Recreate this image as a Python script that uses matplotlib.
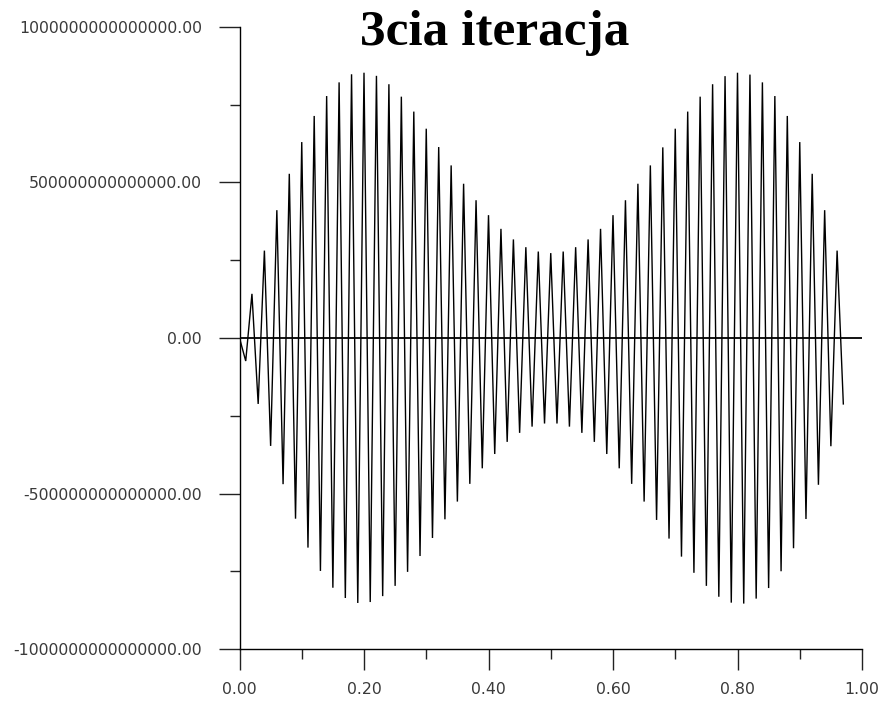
import numpy as np
import matplotlib
matplotlib.use("Agg")
import matplotlib.pyplot as plt
from matplotlib.ticker import MultipleLocator, FuncFormatter

# values, in units of 1e14, one per grid point (step 0.01)
VALUES_E14 = [
    0.00, -0.74, 1.42, -2.12, 2.81, -3.47, 4.11, -4.70, 5.28, -5.81,
    6.30, -6.74, 7.14, -7.49, 7.78, -8.03, 8.22, -8.36, 8.48, -8.52,
    8.53, -8.49, 8.43, -8.30, 8.16, -7.97, 7.76, -7.52, 7.28, -7.01,
    6.73, -6.43, 6.14, -5.83, 5.55, -5.26, 4.96, -4.69, 4.43, -4.19,
    3.95, -3.73, 3.51, -3.34, 3.17, -3.05, 2.92, -2.85, 2.78, -2.75,
    2.73, -2.75, 2.78, -2.85, 2.92, -3.05, 3.17, -3.34, 3.51, -3.73,
    3.95, -4.19, 4.43, -4.69, 4.96, -5.26, 5.55, -5.85, 6.13, -6.45,
    6.73, -7.03, 7.28, -7.55, 7.76, -7.97, 8.16, -8.32, 8.42, -8.51,
    8.53, -8.54, 8.47, -8.38, 8.22, -8.04, 7.78, -7.50, 7.14, -6.76,
    6.30, -5.82, 5.28, -4.72, 4.11, -3.48, 2.81, -2.12,
]
X_STEP = 0.01

TITLE = "3cia iteracja"
X_MAJOR = [0.0, 0.2, 0.4, 0.6, 0.8, 1.0]
Y_MAJOR = [-1e15, -5e14, 0.0, 5e14, 1e15]

y = np.array(VALUES_E14) * 1e14
x = np.arange(len(y)) * X_STEP

fig = plt.figure(figsize=(8.91, 7.04), dpi=100)
ax = fig.add_axes([239.5 / 891, 55 / 704, 622.5 / 891, 622 / 704])

ax.plot(x, y, color="black", lw=1.0, solid_joinstyle="miter")
ax.axhline(0, color="black", lw=1.3)

ax.set_xlim(0, 1)
ax.set_ylim(-1e15, 1e15)
ax.set_xticks(X_MAJOR)
ax.set_yticks(Y_MAJOR)
ax.xaxis.set_minor_locator(MultipleLocator(0.1))
ax.yaxis.set_minor_locator(MultipleLocator(2.5e14))
fmt = FuncFormatter(lambda v, pos: f"{v:.2f}")
ax.xaxis.set_major_formatter(fmt)
ax.yaxis.set_major_formatter(fmt)

for side in ("top", "right"):
    ax.spines[side].set_visible(False)
for side in ("left", "bottom"):
    ax.spines[side].set_linewidth(1.0)
    ax.spines[side].set_color("black")

ax.tick_params(which="major", direction="out", length=15, width=1.0,
               color="#222222", labelsize=11.3, labelcolor="#3a3a3a")
ax.tick_params(which="minor", direction="out", length=7.5, width=1.0,
               color="#222222")
ax.tick_params(axis="y", which="major", pad=12)
ax.tick_params(axis="x", which="major", pad=9)

fig.text(495 / 891, (704 - 45) / 704, TITLE, ha="center", va="baseline",
         fontsize=37, fontweight="bold", family=["Liberation Serif", "DejaVu Serif"])

fig.savefig("out.png", dpi=100)
